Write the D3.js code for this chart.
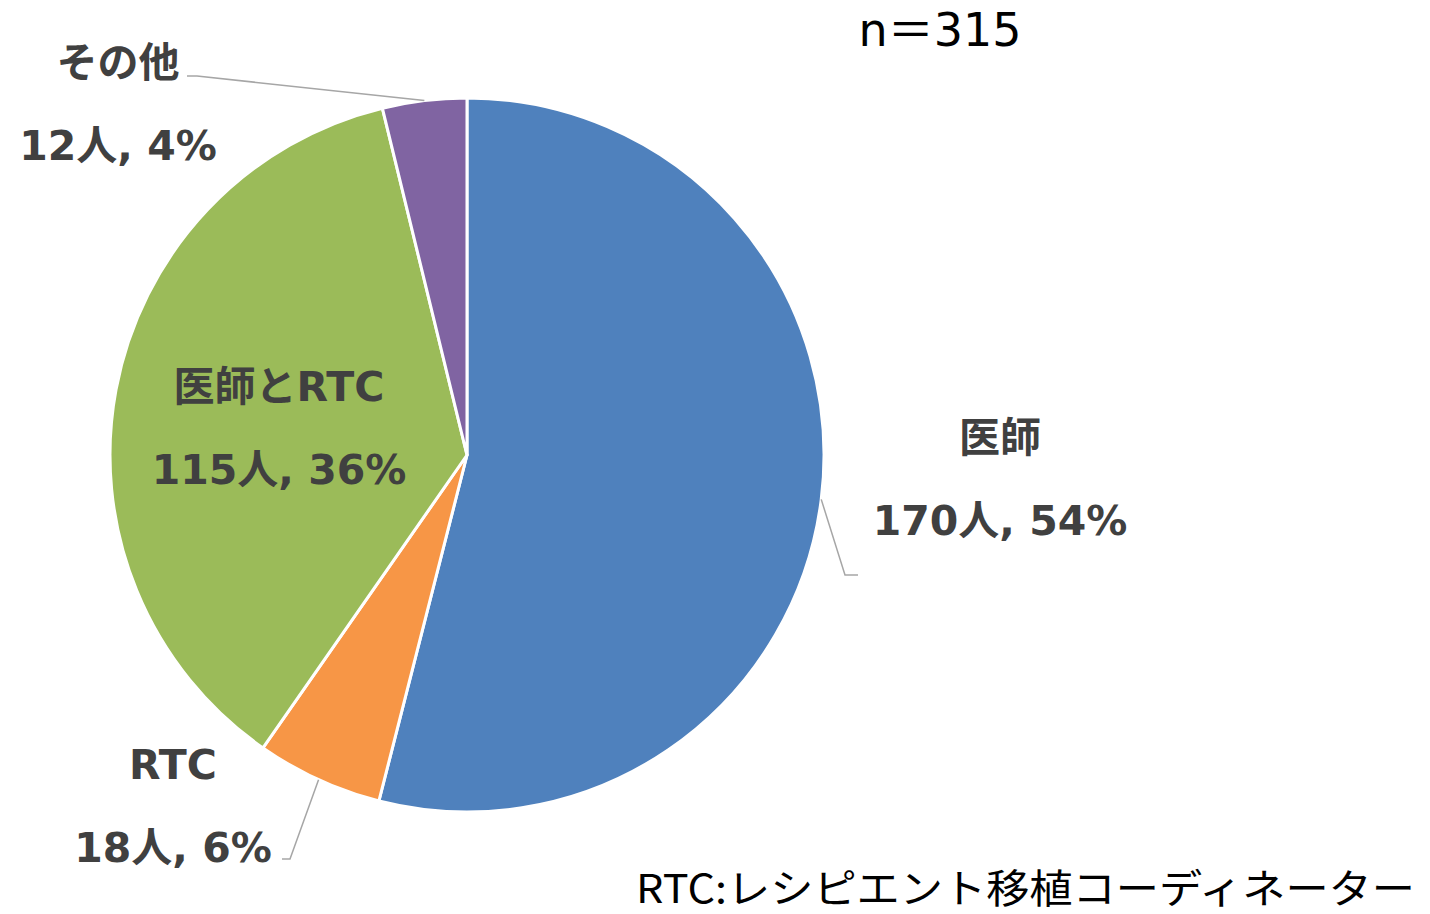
<!DOCTYPE html>
<html>
<head>
<meta charset="utf-8">
<script src="https://cdn.jsdelivr.net/npm/d3@7"></script>
<style>
  body { margin: 0; background: #fff; }
  svg { display: block; }
</style>
</head>
<body>
<svg id="chart" width="1430" height="914"></svg>
<script>
// data
let categories = ['医師', 'RTC', '医師とRTC', 'その他'];
let counts = [170, 18, 115, 12];
let percents = ['54%', '6%', '36%', '4%'];
let colors = ['#4F81BD', '#F79646', '#9BBB59', '#8064A2'];
let total = 315;
let footnote = 'RTC:レシピエント移植コーディネーター';

// label placement (centre of label block), set by hand like the original
let labelPos = [[1000, 437], [173, 764], [279, 386], [118, 62]];
// leader lines: [text end point, bend point]; null = no leader
let leaders = [
    [[858, 575], [845, 575]],
    [[282, 859], [290, 859]],
    null,
    [[187, 76], [197, 76]]
];

let width = 1430, height = 914;
let cx = 467, cy = 455, radius = 357;
let svg = d3.select('#chart');

let pie = d3.pie().sort(null).value(d => d);
let arcs = pie(counts);
let arc = d3.arc().innerRadius(0).outerRadius(radius);

let g = svg.append('g').attr('transform', `translate(${cx},${cy})`);

g.selectAll('path')
    .data(arcs)
    .enter()
    .append('path')
    .attr('d', arc)
    .attr('fill', (d, i) => colors[i])
    .attr('stroke', '#fff')
    .attr('stroke-width', 3)
    .attr('stroke-linejoin', 'round');

// leader lines, attached at the middle of the slice's outer edge
leaders.forEach((ld, i) => {
    if (!ld) return;
    let a = (arcs[i].startAngle + arcs[i].endAngle) / 2;
    let px = cx + Math.sin(a) * radius;
    let py = cy - Math.cos(a) * radius;
    svg.append('polyline')
        .attr('points', [ld[0], ld[1], [px, py]].map(p => p.join(',')).join(' '))
        .attr('fill', 'none')
        .attr('stroke', '#A6A6A6')
        .attr('stroke-width', 1.5);
});

let labels = svg.append('g')
    .attr('font-family', '"DejaVu Sans", "Noto Sans CJK JP", sans-serif')
    .attr('font-weight', 'bold')
    .attr('font-size', 41)
    .attr('fill', '#404040')
    .attr('text-anchor', 'middle');

categories.forEach((c, i) => {
    let [x, y] = labelPos[i];
    labels.append('text')
        .attr('x', x).attr('y', y)
        .attr('dy', '0.36em')
        .text(c);
    labels.append('text')
        .attr('x', x).attr('y', y + 83)
        .attr('dy', '0.36em')
        .text(`${counts[i]}人, ${percents[i]}`);
});

svg.append('text')
    .attr('x', 940).attr('y', 29)
    .attr('dy', '0.36em')
    .attr('text-anchor', 'middle')
    .attr('font-family', '"DejaVu Sans", "Noto Sans CJK JP", sans-serif')
    .attr('font-size', 46)
    .attr('fill', '#000')
    .text(`n＝${total}`);

svg.append('text')
    .attr('x', 636).attr('y', 903)
    .attr('font-family', '"Noto Sans CJK JP", sans-serif')
    .attr('font-size', 40)
    .attr('fill', '#000')
    .attr('textLength', 779)
    .attr('lengthAdjust', 'spacingAndGlyphs')
    .text(footnote);
</script>
</body>
</html>
